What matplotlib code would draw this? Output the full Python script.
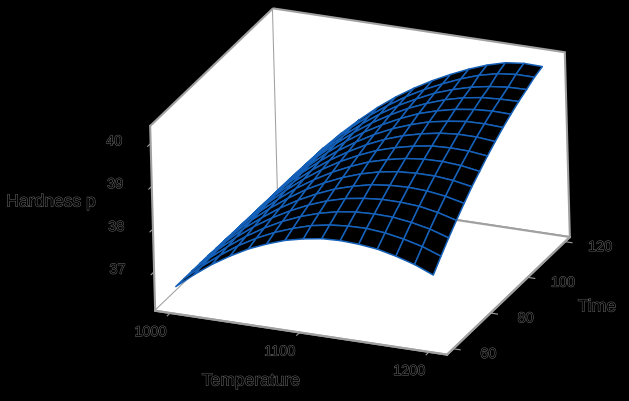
import numpy as np
import matplotlib
matplotlib.use('Agg')
from matplotlib import pyplot as plt
import matplotlib.patheffects as pe
from mpl_toolkits.mplot3d import proj3d

plt.rcParams['font.family'] = ['Liberation Sans', 'DejaVu Sans']

temp = [1000 + i*100/7 for i in range(15)]
time = [60 + i*30/7 for i in range(15)]
# one row per time
hardness = [
    [36.57, 36.91, 37.22, 37.48, 37.71, 37.89, 38.04, 38.14, 38.21, 38.23, 38.21, 38.16, 38.06, 37.93, 37.75],
    [36.57, 36.93, 37.25, 37.54, 37.78, 37.98, 38.14, 38.27, 38.35, 38.39, 38.40, 38.36, 38.28, 38.17, 38.01],
    [36.57, 36.95, 37.28, 37.58, 37.84, 38.06, 38.24, 38.38, 38.48, 38.54, 38.56, 38.55, 38.49, 38.40, 38.26],
    [36.57, 36.96, 37.31, 37.63, 37.90, 38.13, 38.33, 38.49, 38.61, 38.68, 38.72, 38.72, 38.69, 38.61, 38.49],
    [36.57, 36.97, 37.34, 37.66, 37.95, 38.20, 38.41, 38.59, 38.72, 38.82, 38.87, 38.89, 38.87, 38.81, 38.71],
    [36.56, 36.98, 37.36, 37.70, 38.00, 38.27, 38.49, 38.68, 38.83, 38.94, 39.01, 39.04, 39.04, 39.00, 38.92],
    [36.56, 36.99, 37.38, 37.73, 38.05, 38.32, 38.56, 38.76, 38.93, 39.05, 39.14, 39.19, 39.20, 39.17, 39.10],
    [36.55, 36.99, 37.40, 37.76, 38.09, 38.38, 38.63, 38.84, 39.02, 39.15, 39.25, 39.32, 39.34, 39.33, 39.28],
    [36.55, 37.00, 37.41, 37.78, 38.12, 38.42, 38.68, 38.91, 39.10, 39.25, 39.36, 39.44, 39.48, 39.48, 39.44],
    [36.54, 37.00, 37.42, 37.81, 38.15, 38.46, 38.73, 38.97, 39.17, 39.33, 39.46, 39.54, 39.60, 39.61, 39.59],
    [36.54, 37.00, 37.43, 37.82, 38.18, 38.50, 38.78, 39.02, 39.23, 39.41, 39.54, 39.64, 39.70, 39.73, 39.72],
    [36.53, 37.00, 37.44, 37.84, 38.20, 38.53, 38.82, 39.07, 39.29, 39.47, 39.62, 39.73, 39.80, 39.83, 39.84],
    [36.52, 37.00, 37.44, 37.84, 38.21, 38.55, 38.85, 39.11, 39.33, 39.53, 39.68, 39.80, 39.88, 39.93, 39.94],
    [36.51, 36.99, 37.44, 37.85, 38.23, 38.57, 38.87, 39.14, 39.37, 39.57, 39.75, 39.90, 40.00, 40.05, 40.05],
    [36.50, 36.99, 37.44, 37.85, 38.23, 38.58, 38.89, 39.16, 39.40, 39.61, 39.80, 39.96, 40.08, 40.13, 40.12],
]

temp_ticks = [1000, 1100, 1200]
time_ticks = [60, 80, 100, 120]
hard_ticks = [37, 38, 39, 40]

temp_lim = (988.4, 1213.9)
time_lim = (56.7, 122.6)
hard_lim = (36.09, 40.41)

S = 474
fig = plt.figure(figsize=(6.29, 4.02), dpi=100, facecolor='black')
ax = fig.add_axes([116.6/629, -23.9/402, S/629, S/402], projection='3d', proj_type='ortho')
ax.patch.set_alpha(0)
ax.set_box_aspect((318, 311, 202))
ax.view_init(elev=23.7, azim=-66.1, roll=1.55)

T, Y = np.meshgrid(temp, time)
ax.plot_surface(T, Y, np.array(hardness), rstride=1, cstride=1, color='black',
                edgecolor='#1560b8', linewidth=1.1, shade=False)
ax.set_xlim(*temp_lim, view_margin=0)
ax.set_ylim(*time_lim, view_margin=0)
ax.set_zlim(*hard_lim, view_margin=0)
ax.set_xticks(temp_ticks)
ax.set_yticks(time_ticks)
ax.set_zticks(hard_ticks)
ax.set_xticklabels([])
ax.set_yticklabels([])
ax.set_zticklabels([])
ax.grid(False)
ax.zaxis.set_ticks_position('lower')
for axis in [ax.xaxis, ax.yaxis, ax.zaxis]:
    axis.set_pane_color('white')
    axis.pane.set_edgecolor('#a0a0a0')
    axis.pane.set_linewidth(1.5)
    axis.line.set_color('#a0a0a0')
    axis.line.set_linewidth(1.5)
    axis._axinfo['tick']['inward_factor'] = 0.3
    axis._axinfo['tick']['outward_factor'] = 0
ax.tick_params(color='#a0a0a0', width=1)

halo = [pe.withStroke(linewidth=0.7, foreground='#6c6c6c')]

def tick_text(x, y, z, s):
    # place the label at a 3d spot, as plain 2d text so the extent stays on the canvas
    xp, yp, _ = proj3d.proj_transform(x, y, z, ax.get_proj())
    ax.text2D(xp, yp, s, transform=ax.transData, fontsize=10.4, color='black',
              ha='center', va='center', path_effects=halo)

for v in temp_ticks:
    tick_text(v, 46, hard_lim[0], str(v))
for v in time_ticks:
    tick_text(1241, v, hard_lim[0], str(v))
for v in hard_ticks:
    tick_text(960, time_lim[0], v - 0.08, str(v))

for txt, x, y in [('Temperature', 251, 382), ('Time', 597, 308), ('Hardness p', 51, 203)]:
    fig.text(x/629, 1 - y/402, txt, fontsize=12.6, color='black', ha='center', va='center',
             path_effects=halo)

fig.savefig('out.png', dpi=100, facecolor='black')
